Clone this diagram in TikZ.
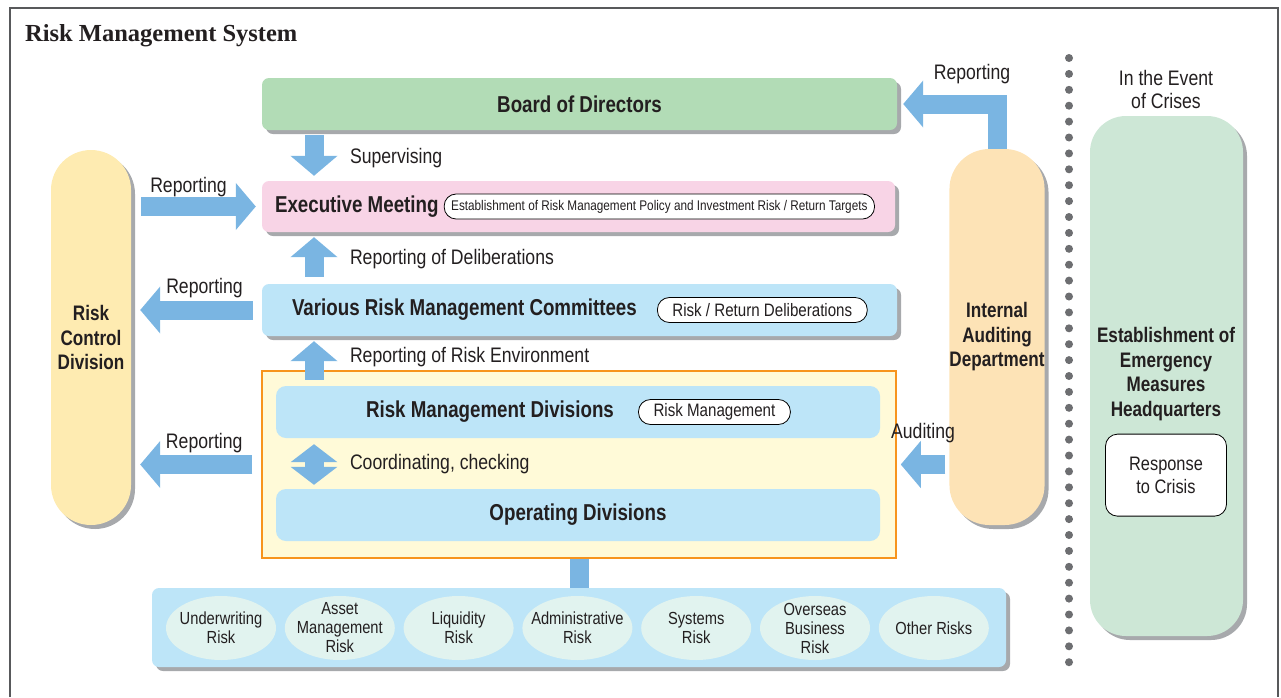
\documentclass[tikz,border=0pt]{standalone}
\usepackage{fontspec}
\setmainfont{Liberation Sans}[FakeStretch=0.84, BoldFeatures={FakeStretch=0.815}]
\newfontfamily\titlefont{Liberation Serif}
\usetikzlibrary{positioning,arrows.meta,shadows,shapes.geometric}

\definecolor{arrowblue}{HTML}{7AB5E2}
\definecolor{bodgreen}{HTML}{B2DCB6}
\definecolor{exmpink}{HTML}{F8D4E6}
\definecolor{lightblue}{HTML}{BDE5F8}
\definecolor{rcdyellow}{HTML}{FEEBB1}
\definecolor{iadpeach}{HTML}{FDE3B6}
\definecolor{emhgreen}{HTML}{CDE7D6}
\definecolor{circfill}{HTML}{E1F3EF}
\definecolor{orangeline}{HTML}{F7941D}
\definecolor{orangefill}{HTML}{FFFAD8}
\definecolor{dotgray}{HTML}{6D6E71}
\definecolor{shadowgray}{HTML}{A7A9AC}
\definecolor{framec}{HTML}{58595B}
\definecolor{txt}{HTML}{231F20}

\newcommand\hdfont{\fontsize{23}{26}\selectfont\bfseries}

\begin{document}
\begin{tikzpicture} [
    x=1pt, y=-1pt,
    box/.style    = {draw=none,
                     rounded corners=7pt,
                     minimum height=52pt,
                     inner sep=0pt,
                     text=txt},
    shd/.style    = {drop shadow={shadow xshift=4pt,
                                  shadow yshift=-4pt,
                                  fill=shadowgray,
                                  opacity=1}},
    hd/.style     = {font=\hdfont,
                     inner sep=0pt,
                     text=txt},
    pill/.style   = {draw=black,
                     line width=0.8pt,
                     fill=white,
                     rounded corners=12pt,
                     minimum height=25pt,
                     inner xsep=15pt,
                     inner ysep=0pt,
                     font=\fontsize{18}{20}\selectfont,
                     text=txt},
    lbl/.style    = {font=\fontsize{21}{23}\selectfont,
                     inner sep=0pt,
                     outer sep=0pt,
                     text=txt},
    pillar/.style = {rounded corners=40pt,
                     inner sep=0pt,
                     align=center,
                     font=\fontsize{21}{24.5}\selectfont\bfseries,
                     text=txt},
    risk/.style   = {ellipse,
                     fill=circfill,
                     minimum width=110pt,
                     minimum height=64pt,
                     inner sep=0pt},
    risktxt/.style = {align=center,
                     inner sep=0pt,
                     font=\fontsize{17.5}{19}\selectfont,
                     text=txt},
    bigarr/.style = {draw=arrowblue,
                     line width=19pt,
                     -{Triangle[length=20pt,width=46pt]}},
    dblarr/.style = {draw=arrowblue,
                     line width=19pt,
                     {Triangle[length=18pt,width=46pt]}-{Triangle[length=18pt,width=46pt]}}
]
\useasboundingbox (0,0) rectangle (1281,697);
\draw[framec, line width=1.2pt] (10,697) -- (10,8) -- (1278,8) -- (1278,697);
\node (ttl) [anchor=base west, inner sep=0pt, text=txt,
             font=\titlefont\fontsize{24.5}{26}\selectfont\bfseries]
      at (25,41) {Risk Management System};

% main column
\node (bod) [box, shd, fill=bodgreen, minimum width=635pt, font=\hdfont]
      at (579.5,104) {Board of Directors};
\node (exm) [box, shd, fill=exmpink, minimum width=633pt, minimum height=51pt]
      at (578.5,206.5) {};
\node (exmt) [hd, anchor=west] at ([xshift=13pt]exm.west) {Executive Meeting};
\node (exmp) [pill, right=5pt of exmt, inner xsep=7pt, font=\fontsize{14}{16}\selectfont]
      {Establishment of Risk Management Policy and Investment Risk / Return Targets};
\node (rmc) [box, shd, fill=lightblue, minimum width=635pt] at (579.5,310) {};
\node (rmct) [hd, anchor=west] at ([xshift=30pt]rmc.west) {Various Risk Management Committees};
\node (rmcp) [pill, right=20pt of rmct] {Risk / Return Deliberations};

\node (rmo) [draw=orangeline, line width=1.5pt, fill=orangefill,
             minimum width=634pt, minimum height=187pt, inner sep=0pt]
      at (579,464.5) {};
\node (rmd) [box, fill=lightblue, minimum width=604pt, rounded corners=10pt]
      at (578,412) {};
\node (rmdt) [hd, anchor=west] at ([xshift=90pt]rmd.west) {Risk Management Divisions};
\node (rmdp) [pill, right=24pt of rmdt] {Risk Management};
\node (opd) [box, fill=lightblue, minimum width=604pt, rounded corners=10pt, font=\hdfont]
      at (578,515) {Operating Divisions};

% side pillars
\node (rcd) [pillar, shd, fill=rcdyellow, minimum width=80pt, minimum height=375pt]
      at (91,337.5) {Risk\\Control\\Division};
\node (iad) [pillar, shd, fill=iadpeach, minimum width=95pt, minimum height=376pt]
      at (997,337) {Internal\\Auditing\\Department};

% crisis side
\foreach \k in {0,...,38}
    \fill[dotgray] (1069,58+\k*15.9) circle (4pt);
\node (evt) [lbl, align=center] at (1166,89) {In the Event\\of Crises};
\node (emh) [pillar, shd, fill=emhgreen, minimum width=153pt, minimum height=520pt,
             rounded corners=36pt]
      at (1166.5,376) {};
\node (emht) [pillar] at (1166,374) {Establishment of\\Emergency\\Measures\\Headquarters};
\node (resp) [below=13pt of emht, draw=black, line width=0.8pt, fill=white,
              rounded corners=12pt, minimum width=121pt, minimum height=82pt,
              align=center, text=txt, font=\fontsize{19.5}{23}\selectfont]
      {Response\\to Crisis};

% risk categories
\node (rsk) [box, shd, fill=lightblue, minimum width=854pt, minimum height=79pt]
      at (579,627.5) {};
\foreach \t [count=\i] in {{Underwriting\\Risk}, {Asset\\Management\\Risk},
                           {Liquidity\\Risk}, {Administrative\\Risk},
                           {Systems\\Risk}, {Overseas\\Business\\Risk}, {Other Risks}}
{
    \node (r\i) [risk] at ({221+(\i-1)*118.8},628) {};
    \node (rt\i) [risktxt] at (r\i) {\t};
}
\draw[arrowblue, line width=19pt] (rmo.south) -- (rsk.north);

% arrows
\coordinate (ax) at (314,0);
\draw[bigarr, shorten <=5pt, shorten >=5pt] (bod.south -| ax) -- (exm.north -| ax)
    node[lbl, midway, right=36pt, yshift=-3pt] {Supervising};
\draw[bigarr, shorten <=7pt, shorten >=5pt] (rmc.north -| ax) -- (exm.south -| ax)
    node[lbl, midway, right=36pt, yshift=-1pt] {Reporting of Deliberations};
\draw[bigarr, shorten <=6pt, shorten >=5pt] (rmd.north -| ax) -- (rmc.south -| ax)
    node[lbl, midway, right=36pt, yshift=4pt] {Reporting of Risk Environment};
\draw[dblarr, shorten <=6pt, shorten >=4pt] (rmd.south -| ax) -- (opd.north -| ax)
    node[lbl, midway, right=36pt, yshift=-1pt] {Coordinating, checking};

\draw[bigarr, shorten <=10pt, shorten >=6pt] (rcd.east |- exm.west) -- (exm.west)
    node[lbl, midway, above=10pt, xshift=-8pt] {Reporting};
\draw[bigarr, shorten <=9pt, shorten >=9pt] (rmc.west) -- (rmc.west -| rcd.east)
    node[lbl, midway, above=12pt, xshift=8pt] {Reporting};
\draw[bigarr, shorten <=9pt, shorten >=9pt] (rmo.west) -- (rmo.west -| rcd.east)
    node[lbl, midway, above=12pt, xshift=8pt] {Reporting};

\draw[bigarr, shorten <=4pt, shorten >=4pt] (iad.west |- rmo.east) -- (rmo.east)
    node[lbl, midway, above=22pt] {Auditing};
\draw[bigarr, shorten >=6pt] (iad.north) |- (bod.east)
    node[lbl, pos=0.5, above=20pt, xshift=-25pt] {Reporting};
\end{tikzpicture}
\end{document}
